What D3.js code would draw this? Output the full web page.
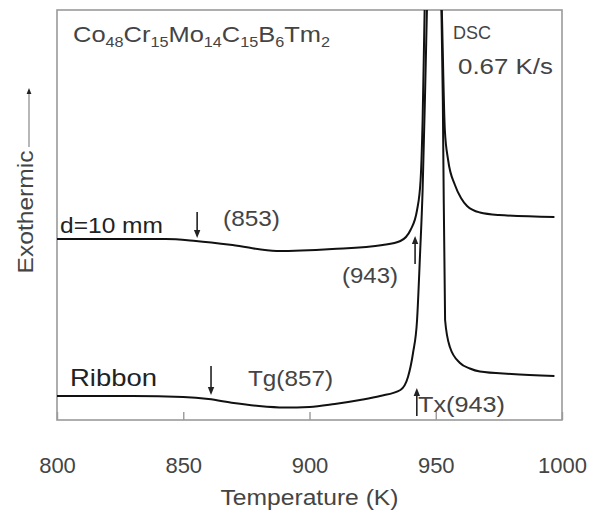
<!DOCTYPE html>
<html><head><meta charset="utf-8">
<script src="https://cdn.jsdelivr.net/npm/d3@7"></script>
<style>body{margin:0;background:#fff}svg{display:block}text{font-family:"Liberation Sans",Arial,sans-serif}</style>
</head><body><div id="chart"></div>
<script>
// Temperature (K)
const ribbonT = [800,830,850,860,870,880,890,900,910,920,928,936,939,941,942.6,943.8,944.8,945.8,946.6,949,952.8,953.7,955.6,959.6,963.5,967.5,980,997];
// heat flow (a.u.)
const ribbonY = [24,24,23,21,17,14,12.5,13,16,20,24,30,43,67,100,167,230,330,420,650,320,100,73,57,51.5,48.5,46,44];
const rodT = [800,843,855,869.5,887,909,929,936,940,942.6,944,944.8,945.6,949,952.4,953.6,954.9,957.6,960,962.4,967.5,975,997];
const rodY = [181,181,179,175,169,171,175,179,190,210,240,300,410,650,410,290,260,235,222,214,207.5,205,203];
const xTicks = [800,850,900,950,1000];
const xTitle = "Temperature (K)";
const yTitle = "Exothermic";

const W=596,H=519;
const m={l:57,r:34,t:10,b:99};
const svg=d3.select("#chart").append("svg").attr("width",W).attr("height",H);
const x=d3.scaleLinear().domain([800,1000]).range([m.l,W-m.r]);
const y=d3.scaleLinear().domain([0,410]).range([H-m.b,m.t]);
const grey="#9a9a9a", txt="#444";

const defs=svg.append("defs");
defs.append("clipPath").attr("id","clip").append("rect")
  .attr("x",m.l).attr("y",m.t).attr("width",W-m.r-m.l).attr("height",H-m.b-m.t);
defs.append("marker").attr("id","ah").attr("viewBox","0 0 10 10").attr("refX",5).attr("refY",5)
  .attr("markerWidth",5).attr("markerHeight",7).attr("orient","auto")
  .append("path").attr("d","M0,1 L10,5 L0,9 Z").attr("fill","#222");

// frame
svg.append("rect").attr("x",m.l).attr("y",m.t).attr("width",W-m.r-m.l).attr("height",H-m.b-m.t)
  .attr("fill","none").attr("stroke",grey).attr("stroke-width",1.6);

// x axis
const ax=svg.append("g").attr("transform",`translate(0,${H-m.b})`)
  .call(d3.axisBottom(x).tickValues(xTicks).tickFormat(d3.format("d")).tickSizeInner(-8).tickSizeOuter(0).tickPadding(37));
ax.select(".domain").remove();
ax.selectAll(".tick line").attr("stroke",grey).attr("stroke-width",1.4);
ax.selectAll(".tick text").attr("fill",txt).attr("font-size",22);

function label(xp,yp,s,fs,len,col,anchor){
  const t=svg.append("text").attr("x",xp).attr("y",yp).attr("fill",col||txt).attr("font-size",fs).text(s);
  if(anchor) t.attr("text-anchor",anchor);
  if(len) t.attr("textLength",len).attr("lengthAdjust","spacingAndGlyphs");
  return t;
}
label((m.l+W-m.r)/2,505,xTitle,22,178,txt,"middle");

// y title with arrow
svg.append("text").attr("transform","translate(33,212) rotate(-90)").attr("text-anchor","middle")
  .attr("fill",txt).attr("font-size",22).attr("textLength",123).attr("lengthAdjust","spacingAndGlyphs").text(yTitle);
svg.append("line").attr("x1",29).attr("x2",29).attr("y1",147).attr("y2",91)
  .attr("stroke","#888").attr("stroke-width",1.2).attr("marker-end","url(#ah)");

const line=d3.line().x(d=>x(d[0])).y(d=>y(d[1])).curve(d3.curveMonotoneX);
const g=svg.append("g").attr("clip-path","url(#clip)");
g.append("path").datum(rodT.map((t,i)=>[t,rodY[i]])).attr("d",line)
  .attr("fill","none").attr("stroke","#111").attr("stroke-width",2);
g.append("path").datum(ribbonT.map((t,i)=>[t,ribbonY[i]])).attr("d",line)
  .attr("fill","none").attr("stroke","#111").attr("stroke-width",2);

// composition title
const tt=svg.append("text").attr("x",73).attr("y",42).attr("fill",txt).attr("font-size",22)
  .attr("textLength",257).attr("lengthAdjust","spacingAndGlyphs");
[["Co","48"],["Cr","15"],["Mo","14"],["C","15"],["B","6"],["Tm","2"]].forEach(([a,b],i)=>{
  tt.append("tspan").attr("font-size",22).attr("dy",i===0?0:-5).text(a);
  tt.append("tspan").attr("font-size",14).attr("dy",5).text(b);
});
label(453,39,"DSC",18,38);
label(458,74,"0.67 K/s",22,95);

// annotations
function arrow(x0,y0,x1,y1){
  svg.append("line").attr("x1",x0).attr("y1",y0).attr("x2",x1).attr("y2",y1)
    .attr("stroke","#222").attr("stroke-width",1.6).attr("marker-end","url(#ah)");
}
label(60,233,"d=10 mm",22,103,"#222");
arrow(x(855.5),212,x(855.5),234);
label(223,226,"(853)",22,57);
label(342,283,"(943)",22,56);
arrow(x(943)-3,264,x(943)-3,240);
label(70,386,"Ribbon",24,87,"#222");
arrow(x(861),366,x(861),391);
label(248,386,"Tg(857)",22,85);
arrow(x(942.5),416,x(942.5),392);
label(418,412,"Tx(943)",22,87);
</script></body></html>
